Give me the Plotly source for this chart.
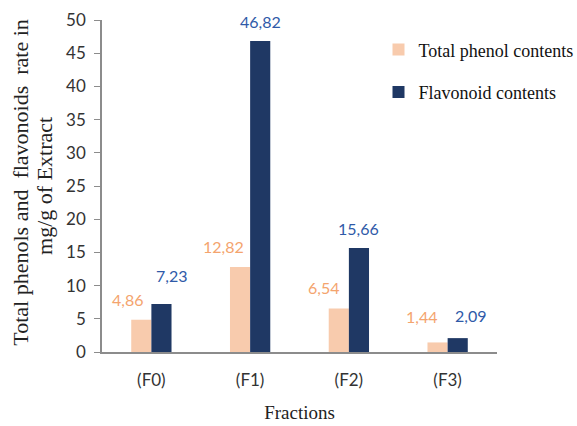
import plotly.graph_objects as go

# Data
fractions = ["(F0)", "(F1)", "(F2)", "(F3)"]
total_phenol = [4.86, 12.82, 6.54, 1.44]
flavonoid = [7.23, 46.82, 15.66, 2.09]
phenol_labels = ["4,86", "12,82", "6,54", "1,44"]
flavonoid_labels = ["7,23", "46,82", "15,66", "2,09"]

PINK = "#F8CBAD"
NAVY = "#1F3864"
PINK_TXT = "#F4A46E"
BLUE_TXT = "#2F5AA8"
AXIS_GREY = "#8C8C8C"
SERIF = "Liberation Serif"
SANS = "Lato"

fig = go.Figure()
fig.add_trace(go.Bar(name="Total phenol contents", x=fractions, y=total_phenol,
                     marker=dict(color=PINK, line=dict(width=0)), legendgroup="a"))
fig.add_trace(go.Bar(name="Flavonoid contents", x=fractions, y=flavonoid,
                     marker=dict(color=NAVY, line=dict(width=0)), legendgroup="b"))

# value labels above the bars (label nudges in pixels)
phenol_dx = [-24, -27, -25, -26]
phenol_dy = [20, 20, 21, 26]
flav_dx = [20, 10, 10, 23]
flav_dy = [28, 20, 20, 23]

for i, cat in enumerate(fractions):
    fig.add_annotation(x=cat, y=total_phenol[i], xref="x", yref="y",
                       text=phenol_labels[i], showarrow=False,
                       xshift=phenol_dx[i], yshift=phenol_dy[i],
                       font=dict(family=SANS, size=16, color=PINK_TXT))
    fig.add_annotation(x=cat, y=flavonoid[i], xref="x", yref="y",
                       text=flavonoid_labels[i], showarrow=False,
                       xshift=flav_dx[i], yshift=flav_dy[i],
                       font=dict(family=SANS, size=16, color=BLUE_TXT))

# y-axis title, two rotated lines
NB = "\u00a0"
for txt, xpos, ypos in [(f"Total phenols and {NB}flavonoids {NB}rate in", -0.205, 0.51),
                        ("mg/g of Extract", -0.147, 0.50)]:
    fig.add_annotation(text=txt, xref="paper", yref="paper", x=xpos, y=ypos,
                       xanchor="center", yanchor="middle", textangle=-90,
                       showarrow=False,
                       font=dict(family=SERIF, size=22, color="#222222"))

fig.update_layout(
    width=577, height=426,
    margin=dict(l=102, r=80, t=20, b=74, autoexpand=False),
    paper_bgcolor="white", plot_bgcolor="white",
    barmode="group", bargap=0.592, bargroupgap=0,
    showlegend=True,
    legend=dict(x=0.70, xanchor="left", y=0.966, yanchor="top",
                xref="paper", yref="paper",
                font=dict(family=SERIF, size=18, color="#111111"),
                tracegroupgap=16, itemwidth=30, bgcolor="rgba(0,0,0,0)"),
    xaxis=dict(showline=True, linecolor=AXIS_GREY, linewidth=1.5, ticks="",
               showgrid=False, ticklabelstandoff=12,
               tickfont=dict(family=SANS, size=17, color="#333333"),
               title=dict(text="Fractions", standoff=17,
                          font=dict(family=SERIF, size=19, color="#222222"))),
    yaxis=dict(range=[0, 50], dtick=5, showline=True, linecolor=AXIS_GREY, linewidth=1.5,
               ticks="outside", ticklen=6, tickcolor=AXIS_GREY, showgrid=False,
               zeroline=False, ticklabelstandoff=5,
               tickfont=dict(family=SANS, size=17, color="#333333")),
)

fig.write_html("out.html")
